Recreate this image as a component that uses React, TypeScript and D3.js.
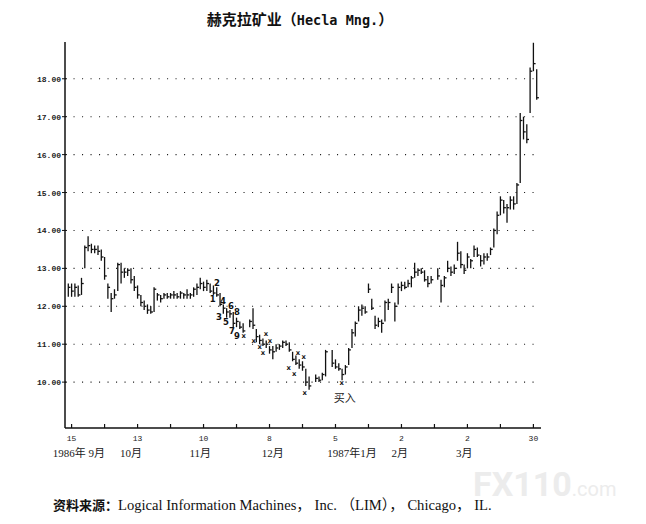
import React from "react";
import * as d3 from "d3";

// ---- data (trading-day index, day 0 = 1986-09-15) ----
const FIRST_DAY = -1;
const lows: (number | null)[] = [
  12.25, 12.25, 12.25, 12.25, 12.3, 13.0, 13.45, 13.4, 13.4, 13.35,
  13.2, 12.7, 12.2, 11.85, 12.2, 12.4, 12.6, 12.75, 12.8, 12.6,
  12.4, 12.2, 12.0, 11.9, 11.8, 11.8, 11.85, 12.15, 12.1, 12.2,
  12.2, 12.2, 12.2, 12.2, 12.2, 12.2, 12.2, 12.2, 12.25, 12.3,
  12.45, 12.4, 12.4, 12.35, 12.3, 12.25, 12.0, 11.8, 11.7, 11.7,
  11.45, 11.45, 11.4, 11.3, null, 11.45, 11.4, 11.05, 11.0, 10.95,
  10.9, 10.75, 10.6, 10.8, 10.85, 10.9, 10.95, 10.8, 10.55, 10.45,
  10.35, 10.3, 9.9, 9.8, null, 10.0, 10.0, 10.05, 10.15, null,
  10.4, 10.35, 10.3, 10.05, 10.2, 10.45, 10.9, 11.2, 11.6, 11.75,
  11.8, 12.35, 11.9, 11.4, 11.45, 11.3, 11.6, 11.9, 12.35, 11.6,
  12.05, 12.4, 12.45, 12.5, 12.5, 12.75, 12.8, 12.85, 12.65, 12.5,
  12.6, null, 12.7, 12.1, 12.5, 12.9, 12.8, 12.85, 13.2, 13.0,
  12.85, 13.0, 13.0, 13.3, 13.3, 13.05, 13.1, 13.2, 13.35, 13.55,
  13.9, 14.4, 14.45, 14.2, 14.55, 14.55, 14.7, 15.25, 16.4, 16.3,
  17.1, 18.2, 17.45,
];
const highs: (number | null)[] = [
  12.6, 12.6, 12.6, 12.55, 12.75, 13.6, 13.85, 13.65, 13.6, 13.6,
  13.5, 13.3, 12.6, 12.35, 12.45, 13.15, 13.15, 13.0, 13.0, 13.0,
  12.8, 12.55, 12.3, 12.15, 12.05, 12.0, 12.5, 12.35, 12.3, 12.35,
  12.35, 12.35, 12.4, 12.35, 12.4, 12.35, 12.45, 12.35, 12.5, 12.6,
  12.75, 12.65, 12.7, 12.6, 12.55, 12.5, 12.35, 12.05, 11.95, 11.9,
  11.85, 11.7, 11.6, 11.55, null, 11.65, 11.95, 11.4, 11.25, 11.15,
  11.1, 10.95, 10.95, 11.0, 11.0, 11.1, 11.1, 11.05, 10.8, 10.7,
  10.6, 10.55, 10.35, 10.15, null, 10.2, 10.15, 10.25, 10.85, null,
  10.85, 10.6, 10.5, 10.35, 10.45, 10.9, 11.4, 11.6, 12.0, 12.05,
  12.0, 12.6, 12.2, 11.75, 11.7, 11.65, 12.15, 12.2, 12.6, 12.1,
  12.6, 12.65, 12.65, 12.7, 12.8, 13.15, 13.0, 13.0, 12.95, 12.8,
  12.8, null, 13.0, 12.7, 12.8, 13.2, 13.05, 13.1, 13.7, 13.45,
  13.1, 13.4, 13.25, 13.6, 13.55, 13.35, 13.4, 13.4, 13.55, 14.05,
  14.5, 14.9, 14.8, 14.7, 14.9, 14.9, 15.25, 17.1, 17.0, 16.8,
  18.3, 18.95, 18.25,
];
const closes: (number | null)[] = [
  12.5, 12.4, 12.5, 12.3, 12.6, 13.55, 13.6, 13.5, 13.5, 13.45,
  13.3, 12.8, 12.5, 12.2, 12.3, 13.1, 12.9, 12.9, 12.95, 12.7,
  12.5, 12.3, 12.1, 12.0, 11.9, 11.85, 12.45, 12.3, 12.2, 12.3,
  12.25, 12.3, 12.3, 12.25, 12.35, 12.3, 12.3, 12.3, 12.45, 12.5,
  12.6, 12.5, 12.6, 12.4, 12.35, 12.3, 12.05, 11.95, 11.85, 11.8,
  11.55, 11.6, 11.45, 11.35, null, 11.6, 11.5, 11.2, 11.1, 11.0,
  11.0, 10.85, 10.8, 10.9, 10.95, 11.05, 11.0, 10.85, 10.6, 10.5,
  10.45, 10.4, 10.0, 9.9, null, 10.1, 10.05, 10.2, 10.8, null,
  10.5, 10.4, 10.35, 10.2, 10.4, 10.85, 11.3, 11.55, 11.9, 11.95,
  11.85, 12.45, 11.95, 11.5, 11.6, 11.55, 12.1, 12.1, 12.5, 12.0,
  12.5, 12.55, 12.5, 12.6, 12.75, 12.9, 12.95, 12.9, 12.7, 12.6,
  12.7, null, 12.8, 12.55, 12.75, 13.0, 12.9, 13.0, 13.4, 13.1,
  12.95, 13.3, 13.2, 13.5, 13.35, 13.2, 13.3, 13.3, 13.5, 14.0,
  14.4, 14.8, 14.6, 14.6, 14.8, 14.7, 15.2, 16.9, 16.6, 16.4,
  18.2, 18.4, 17.5,
];

const yTicks = [10, 11, 12, 13, 14, 15, 16, 17, 18];
const xTickDays = d3.range(0, 141, 10);
const dayLabelDays = [0, 20, 40, 60, 80, 100, 120, 140];
const dayLabels = ["15", "13", "10", "8", "5", "2", "2", "30"];
const monthLabels = ["1986年 9月", "10月", "11月", "12月", "1987年1月", "2月", "3月"];
const monthLabelDays = [2.2, 18, 39, 61, 85, 99.5, 119];

// count labels and "x" marks
const markDays = [44.1, 42.8, 45.9, 44.7, 48.3, 46.8, 50.1, 48.6, 50.1,
  52.2, 55.2, 57.0, 58.9, 60.1, 58.0, 65.8, 67.5, 68.6, 70.4, 70.7, 81.9];
const markPrices = [12.61, 12.19, 12.14, 11.72, 12.0, 11.58, 11.85, 11.35, 11.21,
  11.21, 11.08, 10.92, 11.27, 11.08, 10.77, 10.37, 10.21, 10.77, 10.66, 9.71, 9.97];
const markTexts = ["2", "1", "4", "3", "6", "5", "8", "7", "9",
  "x", "x", "x", "x", "x", "x", "x", "x", "x", "x", "x", "x"];
const buyDay = 82.8;
const buyPrice = 9.6;
const buyText = "买入";

const title = "赫克拉矿业（";
const titleLatin = "Hecla Mng.";
const titleEnd = "）";
const sourceLabel = "资料来源：";
const sourceText = "Logical Information Machines， Inc. （LIM）， Chicago， IL.";

export default function App() {
  const W = 646, H = 524;
  const x = d3.scaleLinear().domain([-2, 142]).range([65, 540]);
  const y = d3.scaleLinear().domain([8.79, 18.97]).range([428, 42]);
  const bars = lows.map((lo, k) => ({
    day: k + FIRST_DAY, lo, hi: highs[k], c: closes[k],
  })).filter((b) => b.lo != null && b.hi != null);

  return (
    <svg width={W} height={H} style={{ position: "absolute", left: 0, top: 0, background: "#fff" }}>
      {/* title */}
      <text x={300} y={25} textAnchor="middle" fontSize={15} fontWeight="bold"
        fontFamily="'Noto Sans CJK SC', sans-serif" fill="#111">
        {title}
        <tspan fontFamily="'DejaVu Sans Mono', monospace" fontSize={13.5}>{titleLatin}</tspan>
        {titleEnd}
      </text>

      {/* gridlines */}
      {yTicks.map((t) => (
        <g key={t}>
          <line x1={x(-2)} x2={540} y1={y(t)} y2={y(t)} stroke="#222" strokeWidth={1.1}
            strokeDasharray="1.1 7.4" />
          <line x1={62} x2={67} y1={y(t)} y2={y(t)} stroke="#111" strokeWidth={1} />
          <text x={61} y={y(t) + 3} textAnchor="end" fontSize={8} fontWeight="bold"
            fontFamily="'Liberation Mono', monospace" fill="#222">{t.toFixed(2)}</text>
        </g>
      ))}

      {/* axes */}
      <line x1={x(-2)} x2={x(-2)} y1={42} y2={428} stroke="#111" strokeWidth={1.5} />
      <line x1={x(-2)} x2={541} y1={428} y2={428} stroke="#111" strokeWidth={1.6} />
      {xTickDays.map((d) => (
        <line key={d} x1={x(d)} x2={x(d)} y1={428} y2={424} stroke="#111" strokeWidth={1.2} />
      ))}
      {dayLabelDays.map((d, k) => (
        <text key={d} x={x(d)} y={441} textAnchor="middle" fontSize={8}
          fontFamily="'Liberation Mono', monospace" fill="#222">{dayLabels[k]}</text>
      ))}
      {monthLabels.map((m, k) => (
        <text key={m} x={x(monthLabelDays[k])} y={457} textAnchor="middle" fontSize={11}
          fontFamily="'Liberation Serif', 'Noto Sans CJK SC', serif" fill="#222">{m}</text>
      ))}

      {/* price bars */}
      {bars.map((b) => (
        <g key={b.day} stroke="#111" strokeWidth={1.3}>
          <line x1={x(b.day)} x2={x(b.day)} y1={y(b.lo as number)} y2={y(b.hi as number)} />
          <line x1={x(b.day)} x2={x(b.day) + 2.2} y1={y(b.c as number)} y2={y(b.c as number)} />
        </g>
      ))}

      {/* count marks */}
      {markTexts.map((t, k) => (
        <text key={k} x={x(markDays[k])} y={y(markPrices[k]) + (t === "x" ? 2.2 : 3)} textAnchor="middle"
          fontSize={t === "x" ? 6.8 : 8.5} fontWeight="bold"
          fontFamily="'DejaVu Sans', sans-serif" fill="#111">{t}</text>
      ))}
      <text x={x(buyDay)} y={y(buyPrice) + 5} textAnchor="middle" fontSize={11}
        fontFamily="'Noto Sans CJK SC', serif" fill="#222">{buyText}</text>

      {/* watermark */}
      <text x={473} y={496} fontSize={34} fontWeight="bold" fontFamily="'Roboto', sans-serif"
        fill="#ececec">FX110<tspan fontSize={20} fontWeight="normal">.com</tspan></text>

      {/* source */}
      <text x={53} y={510} fontSize={13} fill="#111" fontFamily="'Noto Sans CJK SC', sans-serif" fontWeight="bold">
        {sourceLabel}
        <tspan fontFamily="'Liberation Serif', 'Noto Sans CJK SC', serif" fontWeight="normal" fontSize={14.6}>{sourceText}</tspan>
      </text>
    </svg>
  );
}
